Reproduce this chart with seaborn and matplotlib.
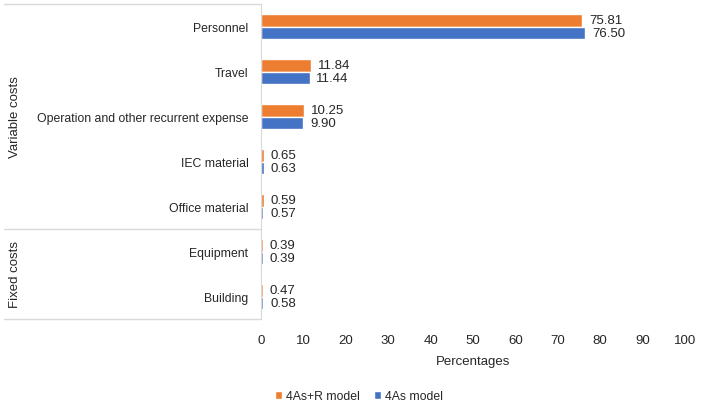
import pandas as pd
import matplotlib
matplotlib.use("Agg")
import matplotlib.pyplot as plt
import matplotlib.transforms as mtransforms
from matplotlib.patches import Patch
import seaborn as sns

# =========================
# Data
# =========================
categories = ["Personnel", "Travel", "Operation and other recurrent expense",
              "IEC material", "Office material", "Equipment", "Building"]
groups = ["Variable costs", "Fixed costs"]
group_sizes = [5, 2]
models = ["4As+R model", "4As model"]
values_4asr = [75.81, 11.84, 10.25, 0.65, 0.59, 0.39, 0.47]
values_4as = [76.50, 11.44, 9.90, 0.63, 0.57, 0.39, 0.58]
xticks = list(range(0, 101, 10))

df = pd.DataFrame({
    "Category": categories * 2,
    "Value": values_4asr + values_4as,
    "Model": [models[0]] * len(categories) + [models[1]] * len(categories),
})

palette = {"4As+R model": "#ED7D31", "4As model": "#4472C4"}
line_col = "#D9D9D9"
txt_col = "#262626"

sns.set_style("white")
plt.rcParams["font.family"] = ["Liberation Sans", "DejaVu Sans"]

fig = plt.figure(figsize=(7.05, 4.06), dpi=100)
ax = fig.add_axes([261 / 705, 1 - 320 / 406, 424 / 705, 315 / 406])

sns.barplot(data=df, y="Category", x="Value", hue="Model", order=categories,
            hue_order=models, palette=palette, orient="h", width=0.54,
            saturation=1, ax=ax, legend=False)

for cont in ax.containers:
    ax.bar_label(cont, fmt="%.2f", padding=5, fontsize=9.5, color=txt_col)

ax.set_xlim(0, 100)
ax.set_ylim(len(categories) - 0.5, -0.5)
ax.set_xticks(xticks)
ax.tick_params(axis="both", length=0, colors=txt_col)
ax.tick_params(axis="y", pad=9, labelsize=8.8)
ax.tick_params(axis="x", pad=11, labelsize=9.5)
ax.set_xlabel("Percentages", fontsize=9.5, color=txt_col, labelpad=6)
ax.set_ylabel("")

for s in ["top", "right", "bottom"]:
    ax.spines[s].set_visible(False)
ax.spines["left"].set_color(line_col)

# group box on the left
trans = mtransforms.blended_transform_factory(ax.transAxes, ax.transData)
x_left = (4 - 261) / 424
bounds = [-0.5]
for n in group_sizes:
    bounds.append(bounds[-1] + n)
for b in bounds:
    ax.plot([x_left, 0], [b, b], color=line_col, lw=1, transform=trans, clip_on=False)
for i, g in enumerate(groups):
    mid = (bounds[i] + bounds[i + 1]) / 2
    ax.text((15 - 261) / 424, mid, g, rotation=90, ha="center", va="center",
            fontsize=9.5, color=txt_col, transform=trans)

handles = [Patch(facecolor=palette[m], label=m) for m in models]
fig.legend(handles=handles, loc="center", bbox_to_anchor=(0.509, 1 - 397 / 406),
           ncol=2, frameon=False, fontsize=8.8, handlelength=0.6, handleheight=0.6,
           handletextpad=0.3, columnspacing=1.2, labelcolor=txt_col)

fig.savefig("out.png", dpi=100)
